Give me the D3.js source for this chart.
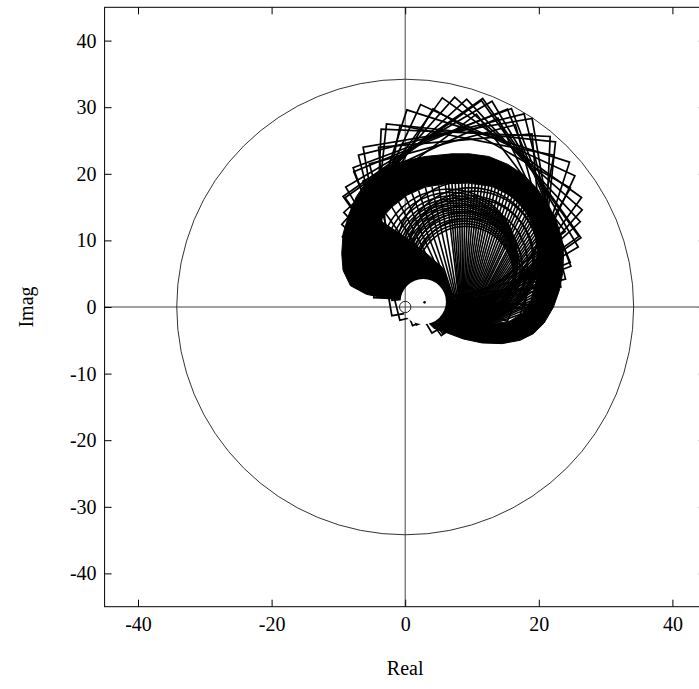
<!DOCTYPE html>
<html><head><meta charset="utf-8">
<script src="https://cdn.jsdelivr.net/npm/d3@7"></script>
<style>
body{margin:0;background:#fff}
text{font-family:"Liberation Serif","Times New Roman",serif;fill:#000}
</style>
</head><body>
<svg id="chart" width="699" height="689"></svg>
<script>
// ---------------- data (data units) ----------------
const xTicks = [-40, -20, 0, 20, 40];
const yTicks = [-40, -30, -20, -10, 0, 10, 20, 30, 40];
const xLabel = "Real";
const yLabel = "Imag";

const boundRadius = 34.2;        // large bound circle
const originRadius = 0.85;       // small circle at the origin

// rotating squares: common centre + one vertex of each square
const sqCenter = [8.5, 13.5];
const sqVertexX = [5.55, 11.6, 17.8, 22.5, 25.4, 26.5, 26.0, 24.7, 0.25, -3.6, -6.3, -7.8, -8.9, -9.2,
                   4.15, -0.78, -3.99, -5.36, -6.35, -6.95];
const sqVertexY = [31.4, 31.3, 29.0, 24.8, 19.7, 14.6, 10.6, 6.7, 29.6, 26.7, 24.0, 20.9, 18.0, 14.2,
                   29.73, 27.26, 23.98, 21.5, 18.9, 15.67];

// dense (solid) region outline, the white hole is left out
const massX = [-0.8, -3.4, -5.8, -8.2, -9.3, -9.5, -9.3, -8.4, -7.3, -5.8, -3.6, -0.6, 3.0, 7.0, 9.6, 12.5,
               15.4, 17.8, 19.8, 21.4, 22.6, 23.4, 23.7, 23.6, 23.1, 22.2, 20.8, 19.2, 17.2, 14.5, 11.5,
               8.7, 6.3, 4.3, 3.58, 5.10, 5.98, 5.98, 5.10, 3.58, 1.82, 0.30, -0.49, -0.67];
const massY = [1.2, 1.4, 1.9, 3.2, 5.5, 8.0, 11.0, 14.0, 16.6, 18.8, 20.6, 21.8, 22.6, 23.0, 23.0, 22.6,
               21.4, 19.8, 17.7, 15.4, 13.0, 10.5, 8.0, 5.2, 2.6, 0.0, -2.4, -4.0, -5.0, -5.5, -5.4,
               -4.8, -3.9, -3.2, -2.48, -1.60, -0.08, 1.68, 3.20, 4.08, 4.08, 3.20, 1.96, 1.27];
// inner open (hatched) region inside the ring
const innerX = [8.5, 10.5, 13.0, 15.5, 17.5, 18.8, 19.6, 19.8, 19.4, 18.2, 16.0, 13.0, 9.5, 6.0, 3.0, 0.3,
                -2.0, -3.8, 0.0, 3.0, 5.6, 6.6, 7.5];
const innerY = [-1.5, -2.3, -2.5, -2.2, -1.0, 1.0, 4.0, 8.0, 11.5, 14.3, 16.6, 18.1, 18.6, 18.5, 18.0, 16.8,
                15.0, 13.0, 10.5, 8.2, 5.9, 3.2, 0.6];

const holeCenter = [2.7, 0.8];
const holeRadius = 3.4;
const endPoint = [2.9, 0.7];

// arcs sweeping from the hub over the hole
const arcCx = [9.0, 8.9, 8.8, 8.7, 8.6, 8.45, 8.3, 8.15, 8.0, 7.85, 7.7, 7.55, 7.4, 7.1, 6.8, 6.5,
               9.5, 10.0, 9.8, 9.3, 9.6, 9.2, 9.4, 10.2];
const arcCy = [4.9, 5.1, 5.3, 5.5, 5.7, 5.85, 6.0, 6.15, 6.3, 6.45, 6.6, 6.75, 6.9, 7.1, 7.3, 7.5,
               6.5, 7.0, 7.8, 8.3, 7.2, 6.0, 5.5, 7.6];
const arcR  = [7.2, 7.4, 7.6, 7.8, 8.0, 8.2, 8.35, 8.5, 8.7, 8.85, 9.0, 9.2, 9.4, 9.6, 9.9, 10.2,
               8.8, 9.3, 10.1, 10.6, 9.5, 8.3, 7.8, 9.8];
const arcStart = [-88, -88, -87, -86, -86, -85, -84, -83, -82, -81, -80, -80, -79, -77, -76, -75,
                  -92, -95, -93, -90, -92, -90, -91, -96];
const arcEnd   = [185, 185, 186, 186, 187, 187, 188, 189, 190, 190, 190, 191, 192, 192, 194, 195,
                  186, 188, 190, 192, 189, 186, 185, 190];

// straight spokes fanning out of the hub (tips on the inner edge of the ring)
const spokeTipX = [17.5, 17.8, 18.1, 18.4, 18.7, 18.9, 19.1, 19.2, 19.3, 19.4, 19.5, 19.6, 19.7, 19.7, 19.7,
                   19.8, 19.8, 19.8, 19.8, 19.8, 19.7, 19.7, 19.6, 19.6, 19.5, 19.4, 19.2, 19.0, 18.8, 18.6,
                   18.4, 18.2, 17.8, 17.5, 17.1, 16.8, 16.4, 16.0, 15.5, 15.0, 14.5, 14.0, 13.5, 13.0, 12.5,
                   12.0, 11.5, 11.0, 10.5, 10.0, 9.5, 9.0, 8.5, 8.0, 7.5, 7.0, 6.5, 6.0, 5.0, 4.0,
                   3.0, 2.0, 1.0, 0.0, -1.0, -2.0, -2.9, -3.8];
const spokeTipY = [-1.0, -0.5, 0.0, 0.4, 0.9, 1.4, 1.9, 2.4, 2.9, 3.4, 3.9, 4.4, 4.9, 5.4, 5.9,
                   6.4, 6.9, 7.4, 7.9, 8.4, 8.9, 9.4, 9.9, 10.4, 10.9, 11.4, 11.9, 12.4, 12.8, 13.3,
                   13.8, 14.2, 14.7, 15.0, 15.4, 15.8, 16.2, 16.6, 16.9, 17.1, 17.4, 17.6, 17.9, 18.1, 18.2,
                   18.3, 18.4, 18.4, 18.5, 18.5, 18.6, 18.6, 18.6, 18.6, 18.6, 18.5, 18.5, 18.5, 18.3, 18.1,
                   18.0, 17.5, 17.1, 16.6, 15.8, 15.0, 14.0, 13.0];
const spokeHubX = [10.90, 10.86, 10.81, 10.77, 10.72, 10.68, 10.63, 10.59, 10.54, 10.50, 10.45, 10.41, 10.36, 10.32, 10.27,
                   10.23, 10.18, 10.14, 10.09, 10.05, 10.00, 9.96, 9.91, 9.87, 9.82, 9.78, 9.73, 9.69, 9.64, 9.60,
                   9.55, 9.51, 9.46, 9.42, 9.37, 9.33, 9.28, 9.24, 9.19, 9.15, 9.10, 9.06, 9.01, 8.97, 8.92,
                   8.88, 8.83, 8.79, 8.74, 8.70, 8.65, 8.61, 8.56, 8.52, 8.47, 8.43, 8.38, 8.34, 8.29, 8.25,
                   8.20, 8.16, 8.11, 8.07, 8.02, 7.98, 7.93, 7.89];
const spokeHubY = [-3.30, -3.27, -3.24, -3.21, -3.18, -3.15, -3.12, -3.09, -3.06, -3.03, -3.00, -2.97, -2.94, -2.91, -2.88,
                   -2.85, -2.82, -2.79, -2.76, -2.73, -2.70, -2.67, -2.64, -2.61, -2.58, -2.55, -2.52, -2.49, -2.46, -2.43,
                   -2.40, -2.37, -2.34, -2.31, -2.28, -2.25, -2.22, -2.19, -2.16, -2.13, -2.10, -2.07, -2.04, -2.01, -1.98,
                   -1.95, -1.92, -1.89, -1.86, -1.83, -1.80, -1.77, -1.74, -1.71, -1.68, -1.65, -1.62, -1.59, -1.56, -1.53,
                   -1.50, -1.47, -1.44, -1.41, -1.38, -1.35, -1.32, -1.29];

// ---------------- drawing ----------------
const W = 699, H = 689;
const svg = d3.select("#chart");
const x = d3.scaleLinear().domain([-45, 45]).range([104.6, 705.8]);
const y = d3.scaleLinear().domain([-45, 45]).range([606.7, 7.3]);
const pL = x(-45), pR = x(45), pT = y(45), pB = y(-45);

const defs = svg.append("defs");
defs.append("clipPath").attr("id", "plotClip")
  .append("rect").attr("x", pL).attr("y", pT).attr("width", pR - pL).attr("height", pB - pT);
const mask = defs.append("mask").attr("id", "holeMask").attr("maskUnits", "userSpaceOnUse")
  .attr("x", 0).attr("y", 0).attr("width", W).attr("height", H);
mask.append("rect").attr("x", 0).attr("y", 0).attr("width", W).attr("height", H).attr("fill", "#fff");
mask.append("ellipse")
  .attr("cx", x(holeCenter[0])).attr("cy", y(holeCenter[1]))
  .attr("rx", x(holeRadius) - x(0)).attr("ry", y(0) - y(holeRadius))
  .attr("fill", "#000");

const plot = svg.append("g").attr("clip-path", "url(#plotClip)");

// axes through the origin
plot.append("line").attr("x1", pL).attr("x2", pR).attr("y1", y(0)).attr("y2", y(0))
  .attr("stroke", "#444").attr("stroke-width", 1);
plot.append("line").attr("x1", x(0)).attr("x2", x(0)).attr("y1", pT).attr("y2", pB)
  .attr("stroke", "#444").attr("stroke-width", 1);

// bound circles
plot.append("ellipse").attr("cx", x(0)).attr("cy", y(0))
  .attr("rx", x(boundRadius) - x(0)).attr("ry", y(0) - y(boundRadius))
  .attr("fill", "none").attr("stroke", "#333").attr("stroke-width", 1);
plot.append("ellipse").attr("cx", x(0)).attr("cy", y(0))
  .attr("rx", x(originRadius) - x(0)).attr("ry", y(0) - y(originRadius))
  .attr("fill", "none").attr("stroke", "#222").attr("stroke-width", 1);

const curves = plot.append("g").attr("mask", "url(#holeMask)");
const line = d3.line().x(d => x(d[0])).y(d => y(d[1]));

// solid mass with the inner hatched region cut out
const massPts = massX.map((v, i) => [v, massY[i]]);
const innerPts = innerX.map((v, i) => [v, innerY[i]]);
curves.append("path")
  .attr("d", line(massPts) + "Z" + line(innerPts) + "Z")
  .attr("fill", "#000").attr("fill-rule", "evenodd").attr("stroke", "#000").attr("stroke-width", 1);

// spokes
curves.append("g").selectAll("line").data(spokeTipX).join("line")
  .attr("x1", (d, i) => x(spokeHubX[i])).attr("y1", (d, i) => y(spokeHubY[i]))
  .attr("x2", (d, i) => x(spokeTipX[i])).attr("y2", (d, i) => y(spokeTipY[i]))
  .attr("stroke", "#000").attr("stroke-width", 1.6);

// arcs
const arcPts = i => {
  const pts = [];
  for (let a = arcStart[i]; a <= arcEnd[i]; a += 3) {
    const t = a * Math.PI / 180;
    pts.push([arcCx[i] + arcR[i] * Math.cos(t), arcCy[i] + arcR[i] * Math.sin(t)]);
  }
  return pts;
};
curves.append("g").selectAll("path").data(arcCx).join("path")
  .attr("d", (d, i) => line(arcPts(i)))
  .attr("fill", "none").attr("stroke", "#000").attr("stroke-width", 1.6);

// squares
const squarePts = i => {
  const dx = sqVertexX[i] - sqCenter[0], dy = sqVertexY[i] - sqCenter[1];
  return [[dx, dy], [-dy, dx], [-dx, -dy], [dy, -dx]].map(p => [sqCenter[0] + p[0], sqCenter[1] + p[1]]);
};
curves.append("g").selectAll("path").data(sqVertexX).join("path")
  .attr("d", (d, i) => line(squarePts(i)) + "Z")
  .attr("fill", "none").attr("stroke", "#000").attr("stroke-width", 1.7).attr("stroke-linejoin", "miter");

// last point inside the hole
plot.append("circle").attr("cx", x(endPoint[0])).attr("cy", y(endPoint[1])).attr("r", 1.3).attr("fill", "#000");

// frame
svg.append("rect").attr("x", pL).attr("y", pT).attr("width", pR - pL).attr("height", pB - pT)
  .attr("fill", "none").attr("stroke", "#000").attr("stroke-width", 1);

// axes with inward ticks
const fs = "20px";
const fmt = d => String(d);
const gx = svg.append("g").attr("transform", `translate(0,${pB})`)
  .call(d3.axisBottom(x).tickValues(xTicks).tickSizeInner(-7).tickSizeOuter(0).tickPadding(10).tickFormat(fmt));
const gxt = svg.append("g").attr("transform", `translate(0,${pT})`)
  .call(d3.axisTop(x).tickValues(xTicks).tickSizeInner(-7).tickSizeOuter(0).tickFormat(""));
const gy = svg.append("g").attr("transform", `translate(${pL},0)`)
  .call(d3.axisLeft(y).tickValues(yTicks).tickSizeInner(-7).tickSizeOuter(0).tickPadding(8).tickFormat(fmt));
const gyr = svg.append("g").attr("transform", `translate(${pR},0)`)
  .call(d3.axisRight(y).tickValues(yTicks).tickSizeInner(-7).tickSizeOuter(0).tickFormat(""));
[gx, gxt, gy, gyr].forEach(g => {
  g.select(".domain").remove();
  g.selectAll(".tick line").attr("stroke", "#000").attr("stroke-width", 1);
  g.selectAll("text").style("font-family", "'Liberation Serif','Times New Roman',serif").style("font-size", fs).attr("fill", "#000");
});

svg.append("text").attr("x", x(0)).attr("y", 675).attr("text-anchor", "middle")
  .style("font-size", fs).text(xLabel);
svg.append("text").attr("transform", `translate(33,${y(0)}) rotate(-90)`).attr("text-anchor", "middle")
  .style("font-size", fs).text(yLabel);
</script>
</body></html>
